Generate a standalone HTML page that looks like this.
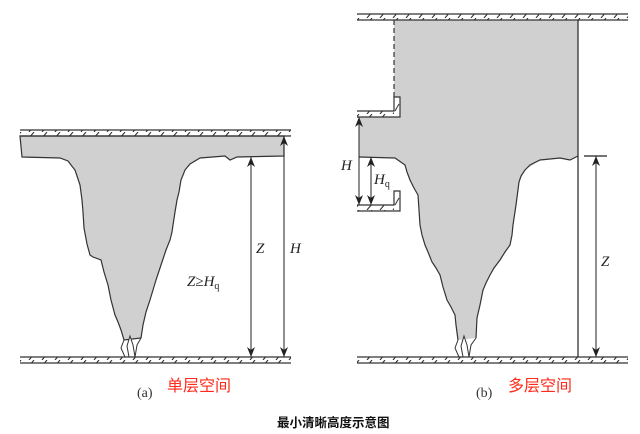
<!DOCTYPE html>
<html><head><meta charset="utf-8"><style>
html,body{margin:0;padding:0;background:#fff;width:640px;height:434px;overflow:hidden}
svg{display:block}
.t{font-family:"Liberation Serif",serif;font-style:italic;font-size:15px;fill:#222}
</style></head><body>
<svg width="640" height="434" viewBox="0 0 640 434" xmlns="http://www.w3.org/2000/svg">
<defs>
<pattern id="h" x="0" y="0" width="13" height="6" patternUnits="userSpaceOnUse">
<line x1="3" y1="6" x2="8" y2="0" stroke="#333" stroke-width="1.1"/>
</pattern>
<marker id="a" markerWidth="10" markerHeight="8" refX="10" refY="4" orient="auto-start-reverse" markerUnits="userSpaceOnUse" viewBox="0 0 10 8">
<path d="M0,0 L10,4 L0,8 L3,4 Z" fill="#222"/>
</marker>
</defs>

<!-- Panel A -->
<path d="M20,136 L284,136 L284,156 L237,157 L230,160 L225,156 L200,158 L190,164 L185,170 L181,180 L179,192 L177,200 L175,212 L173,225 L172,232 L170,240 L166,250 L162,262 L156,280 L150,300 L146,312 L143,325 L141,338 L124,340 L121,330 L118,322 L115,315 L111,300 L108,285 L104,272 L101,260 L93,257 L90,255 L87,244 L84,228 L83,212 L82,200 L80,185 L77,176 L75,170 L71,165 L68,161 L60,158 L22,157 Z" fill="#d0d0d0" stroke="#333" stroke-width="1.2"/>
<path d="M124,340 L121,348 L125,357 M129,357 L127,346 L130,336 L133,345 L135,357 M135,357 L137,345 L141,338" fill="#fff" stroke="#333" stroke-width="1"/>
<rect x="20" y="130" width="271" height="6" fill="url(#h)"/>
<line x1="20" y1="130" x2="291" y2="130" stroke="#333" stroke-width="1.2"/>
<line x1="20" y1="136" x2="291" y2="136" stroke="#333" stroke-width="1.2"/>
<rect x="20" y="357" width="271" height="6" fill="url(#h)"/>
<line x1="20" y1="357" x2="291" y2="357" stroke="#333" stroke-width="1.2"/>
<line x1="20" y1="363" x2="291" y2="363" stroke="#333" stroke-width="1.2"/>
<line x1="251" y1="157" x2="251" y2="357" stroke="#222" stroke-width="1" marker-start="url(#a)" marker-end="url(#a)"/>
<line x1="284" y1="136" x2="284" y2="357" stroke="#222" stroke-width="1" marker-start="url(#a)" marker-end="url(#a)"/>
<text class="t" x="256" y="253">Z</text>
<text class="t" x="290" y="253">H</text>
<text class="t" x="187" y="286">Z≥H<tspan font-size="10" dy="3" font-style="normal">q</tspan></text>

<!-- Panel B -->
<path d="M394,20 L578,20 L578,156 L570,160 L560,158 L540,160 L525,170 L519,182 L513,225 L510,245 L500,260 L490,275 L483,290 L477,318 L476,338 L458,340 L455,315 L447,300 L440,275 L432,262 L425,245 L420,225 L418,195 L410,180 L405,165 L395,158 L359,157 L359,117 L400,117 L400,97 L394,97 Z" fill="#d0d0d0" stroke="none"/>
<path d="M578,156 L570,160 L560,158 L540,160 L530,165 L525,170 L521,176 L519,182 L516,205 L513,225 L512,235 L510,245 L505,252 L500,260 L494,268 L490,275 L486,283 L483,290 L480,305 L477,318 L476,338 M458,340 L456,325 L455,315 L451,307 L447,300 L443,287 L440,275 L436,268 L432,262 L428,252 L425,245 L422,235 L420,225 L419,210 L418,195 L414,188 L410,180 L407,172 L405,165 L395,158 L359,157" fill="none" stroke="#333" stroke-width="1.2"/>
<path d="M458,340 L455,348 L459,357 M463,357 L461,346 L464,336 L467,345 L469,357 M469,357 L471,345 L476,338" fill="#fff" stroke="#333" stroke-width="1"/>
<line x1="394" y1="20" x2="394" y2="97" stroke="#333" stroke-width="1.2" stroke-dasharray="5,3"/>
<line x1="578" y1="20" x2="578" y2="357" stroke="#333" stroke-width="1.3"/>
<rect x="357" y="14" width="271" height="6" fill="url(#h)"/>
<line x1="357" y1="14" x2="628" y2="14" stroke="#333" stroke-width="1.2"/>
<line x1="357" y1="20" x2="628" y2="20" stroke="#333" stroke-width="1.2"/>
<rect x="357" y="357" width="271" height="6" fill="url(#h)"/>
<line x1="357" y1="357" x2="628" y2="357" stroke="#333" stroke-width="1.2"/>
<line x1="357" y1="363" x2="628" y2="363" stroke="#333" stroke-width="1.2"/>
<!-- balconies -->
<rect x="357" y="111" width="37" height="6" fill="url(#h)"/>
<path d="M357,111 L394,111 L394,97 L400,97 L400,117 L357,117" fill="none" stroke="#333" stroke-width="1.2"/>
<line x1="395" y1="111" x2="399" y2="104" stroke="#333"/>
<rect x="357" y="205" width="37" height="6" fill="url(#h)"/>
<path d="M357,205 L394,205 L394,191 L400,191 L400,211 L357,211" fill="none" stroke="#333" stroke-width="1.2"/>
<line x1="395" y1="205" x2="399" y2="198" stroke="#333"/>
<line x1="359" y1="117" x2="359" y2="205" stroke="#222" stroke-width="1" marker-start="url(#a)" marker-end="url(#a)"/>
<line x1="371" y1="157" x2="371" y2="205" stroke="#222" stroke-width="1" marker-start="url(#a)" marker-end="url(#a)"/>
<text class="t" x="341" y="170">H</text>
<text class="t" x="374" y="184">H<tspan font-size="10" dy="3" font-style="normal">q</tspan></text>
<line x1="584" y1="156" x2="607" y2="156" stroke="#222" stroke-width="1.2"/>
<line x1="596" y1="156" x2="596" y2="357" stroke="#222" stroke-width="1" marker-start="url(#a)" marker-end="url(#a)"/>
<text class="t" x="601" y="266">Z</text>

<!-- captions -->
<text x="137" y="397" font-family="Liberation Serif,serif" font-size="14" fill="#333">(a)</text>
<text x="167" y="391" font-family="Liberation Sans,'Noto Sans CJK SC',sans-serif" font-size="16" fill="#ff2a1a">单层空间</text>
<text x="476" y="397" font-family="Liberation Serif,serif" font-size="14" fill="#333">(b)</text>
<text x="508" y="391" font-family="Liberation Sans,'Noto Sans CJK SC',sans-serif" font-size="16" fill="#ff2a1a">多层空间</text>
<text x="277" y="427" font-family="Liberation Sans,'Noto Sans CJK SC',sans-serif" font-size="12.5" font-weight="bold" fill="#111">最小清晰高度示意图</text>
</svg>
</body></html>
